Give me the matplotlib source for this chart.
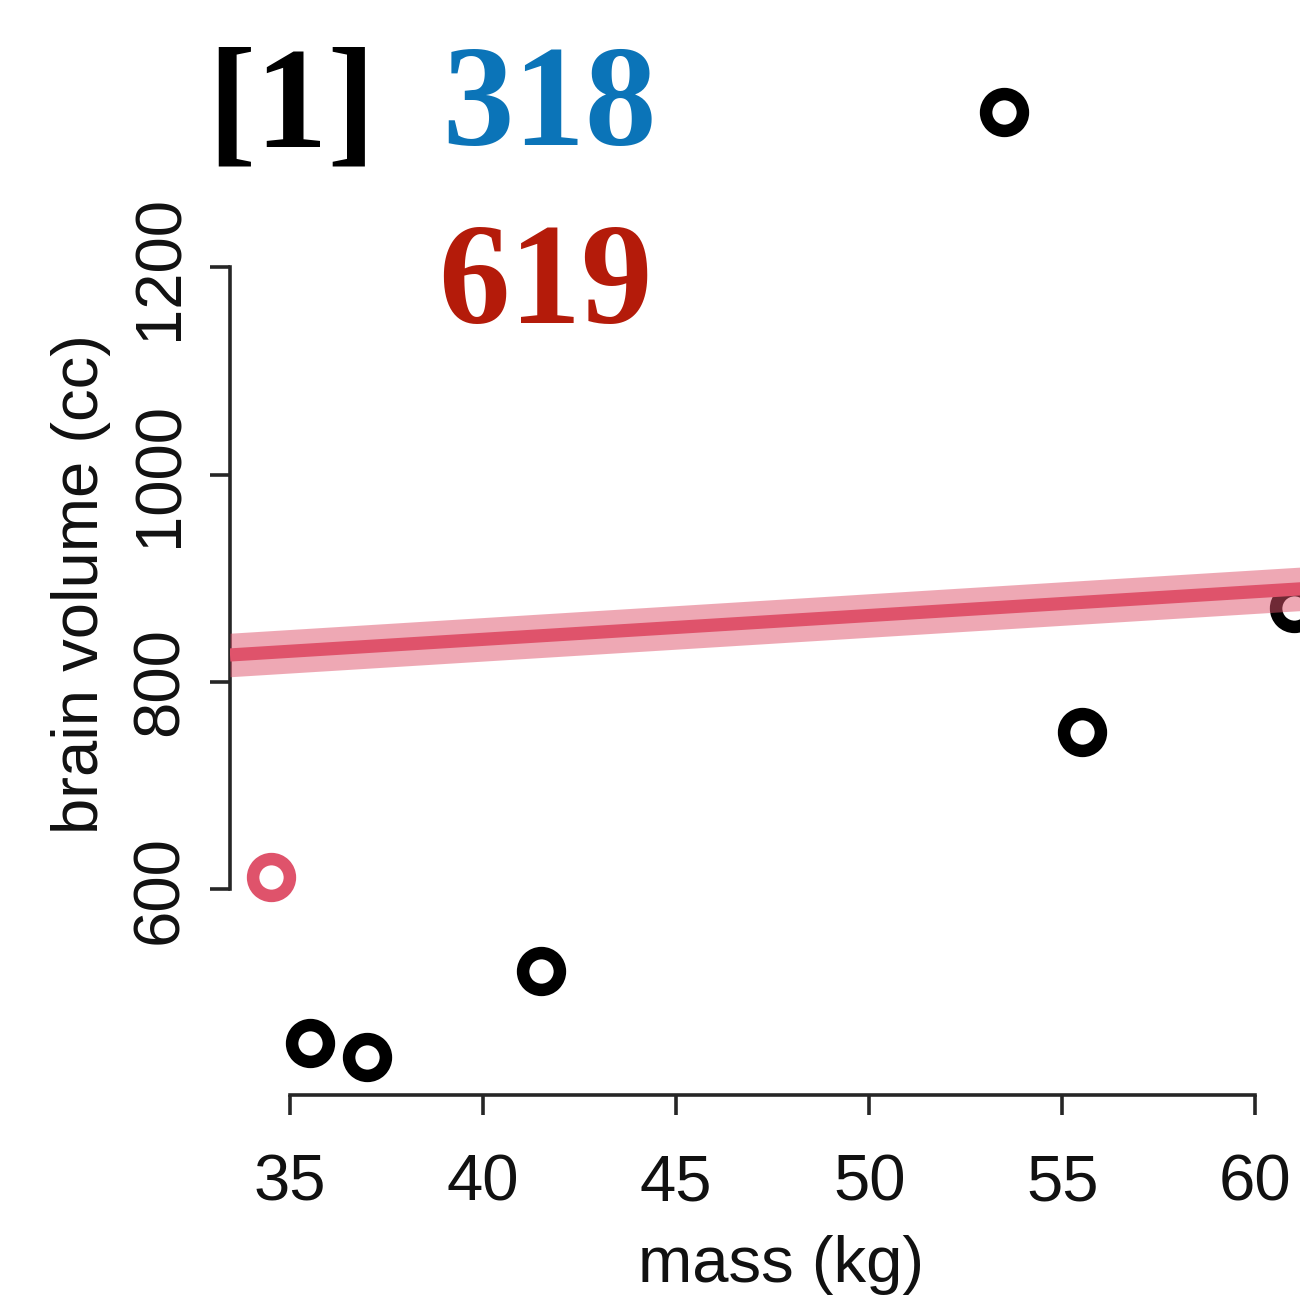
import matplotlib
matplotlib.use("Agg")
import matplotlib.pyplot as plt
import numpy as np

# ---- data ----
mass = [37.0, 35.5, 34.5, 41.5, 55.5, 61.0, 53.5]
brain = [438, 452, 612, 521, 752, 871, 1350]
highlight = [False, False, True, False, False, False, False]

line_intercept_at35 = 829.6   # fitted brain volume at 35 kg
line_slope = 2.3              # cc per kg
band_halfwidth = 21           # cc

xticks = [35, 40, 45, 50, 55, 60]
yticks = [600, 800, 1000, 1200]
xlabel = "mass (kg)"
ylabel = "brain volume (cc)"
overlay_index = "[1]"
overlay_vals = ["318", "619"]

# ---- styling ----
RED = "#DF536B"
W, H = 1300, 1301
fig = plt.figure(figsize=(W / 100, H / 100), dpi=100)
plt.rcParams["font.family"] = ["Liberation Sans", "DejaVu Sans"]

xlim = (33.44, 62.06)
ylim = (401.5, 1386.5)
left_px, bottom_px, top_px = 230, 1095, 74
px_per_kg = 193 / 5
width_px = (xlim[1] - xlim[0]) * px_per_kg
ax = fig.add_axes([left_px / W, 1 - bottom_px / H, width_px / W, (bottom_px - top_px) / H])
ax.set_xlim(*xlim)
ax.set_ylim(*ylim)

mass_a = np.array(mass)
brain_a = np.array(brain)
hl = np.array(highlight)

MS, MEW = 26.5, 9.0
ax.plot(mass_a[~hl], brain_a[~hl], linestyle="none", marker="o", markersize=MS,
        markerfacecolor="none", markeredgecolor="black", markeredgewidth=MEW, zorder=2,
        clip_on=False)
ax.plot(mass_a[hl], brain_a[hl], linestyle="none", marker="o", markersize=MS,
        markerfacecolor="none", markeredgecolor=RED, markeredgewidth=MEW, zorder=2,
        clip_on=False)

xs = np.array(xlim)
ys = line_intercept_at35 + line_slope * (xs - 35)
ax.fill_between(xs, ys - band_halfwidth, ys + band_halfwidth, color=RED, alpha=0.5,
                linewidth=0, zorder=3)
ax.plot(xs, ys, color=RED, linewidth=9.5, solid_capstyle="butt", zorder=4)

for s in ["top", "right"]:
    ax.spines[s].set_visible(False)
ax.spines["left"].set_bounds(yticks[0], yticks[-1])
ax.spines["bottom"].set_bounds(xticks[0], xticks[-1])
for s in ["left", "bottom"]:
    ax.spines[s].set_linewidth(2.6)
    ax.spines[s].set_color("#262626")

ax.set_xticks(xticks)
ax.set_yticks(yticks)
ax.tick_params(axis="both", length=14.4, width=2.6, color="#262626", labelsize=47,
               labelcolor="#111111")
ax.tick_params(axis="x", pad=28)
ax.tick_params(axis="y", pad=14)
plt.setp(ax.get_yticklabels(), rotation=90, va="center")

ax.set_xlabel(xlabel, fontsize=47, color="#111111")
ax.set_ylabel(ylabel, fontsize=47, color="#111111")
ax.xaxis.set_label_coords(0.4988, -0.137)
ax.yaxis.set_label_coords(-0.1077, 0.5)

# overlay console-style numbers
serif = ["Liberation Serif", "DejaVu Serif"]
fig.text(207 / W, 1 - 147 / H, overlay_index, fontsize=104, fontweight="bold",
         family=serif, color="black", va="baseline", ha="left")
fig.text(442 / W, 1 - 145 / H, overlay_vals[0], fontsize=103, fontweight="bold",
         family=serif, color="#0B74B8", va="baseline", ha="left")
fig.text(438 / W, 1 - 323 / H, overlay_vals[1], fontsize=103, fontweight="bold",
         family=serif, color="#B41B0A", va="baseline", ha="left")

fig.savefig("out.png", dpi=100)
